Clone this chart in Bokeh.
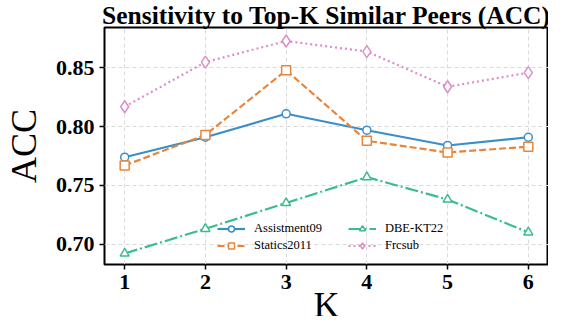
from bokeh.plotting import figure
from bokeh.embed import file_html
from bokeh.resources import INLINE
from bokeh.models import Legend, LegendItem, Range1d, FixedTicker, Title

K = [1, 2, 3, 4, 5, 6]
assist09 = [0.774, 0.791, 0.811, 0.797, 0.784, 0.791]
statics2011 = [0.767, 0.793, 0.848, 0.788, 0.778, 0.783]
dbekt22 = [0.692, 0.713, 0.735, 0.757, 0.738, 0.710]
frcsub = [0.817, 0.855, 0.873, 0.864, 0.834, 0.846]
y_ticks = [0.70, 0.75, 0.80, 0.85]
title_text = "Sensitivity to Top-K Similar Peers (ACC)"
x_label = "K"
y_label = "ACC"

SERIF = "Liberation Serif"
W, H = 548, 316

p = figure(width=W, height=H, output_backend="svg", toolbar_location=None,
           x_range=Range1d(0.75, 6.25), y_range=Range1d(0.6826, 0.8845),
           min_border_left=96, min_border_right=0, min_border_top=0, min_border_bottom=0)

p.title.text = title_text
p.title.text_font = SERIF
p.title.text_font_size = "25.5px"
p.title.text_font_style = "bold"
p.title.text_color = "black"
p.title.align = "center"
p.title.standoff = -4
p.title.offset = 0

p.outline_line_color = "black"
p.outline_line_width = 2
p.outline_line_alpha = 1

for ax in (p.xaxis[0], p.yaxis[0]):
    ax.axis_line_color = None
    ax.major_tick_line_color = "black"
    ax.major_tick_line_width = 1.5
    ax.major_tick_out = 5
    ax.major_tick_in = 0
    ax.minor_tick_line_color = None
    ax.major_label_text_font = SERIF
    ax.major_label_text_font_style = "bold"
    ax.major_label_text_font_size = "22px"
    ax.major_label_text_color = "black"

p.xaxis.ticker = FixedTicker(ticks=K)
p.yaxis.ticker = FixedTicker(ticks=y_ticks)
p.yaxis.major_label_overrides = {v: f"{v:.2f}" for v in y_ticks}
p.xaxis.major_label_standoff = 5
p.yaxis.major_label_standoff = 5

p.yaxis.axis_label = y_label
p.yaxis.axis_label_text_font = SERIF
p.yaxis.axis_label_text_font_style = "normal"
p.yaxis.axis_label_text_font_size = "36px"
p.yaxis.axis_label_text_color = "black"
p.yaxis.axis_label_standoff = 9

p.xgrid.grid_line_color = "#d9d9d9"
p.ygrid.grid_line_color = "#d9d9d9"
p.xgrid.grid_line_dash = "4 3"
p.ygrid.grid_line_dash = "4 3"
p.xgrid.grid_line_width = 1
p.ygrid.grid_line_width = 1

# x-axis label as a title in the bottom panel, tightened with a negative standoff
p.add_layout(Title(text=x_label, text_font=SERIF, text_font_size="36px",
                   text_font_style="normal", text_color="black",
                   align="center", vertical_align="bottom", standoff=-17), "below")

series = [
    ("Assistment09", assist09, "#3A8FC8", "solid", "circle", 8),
    ("Statics2011", statics2011, "#E9853B", "7 3", "square", 9),
    ("DBE-KT22", dbekt22, "#38BD8F", "13 3 2 3", "triangle", 9),
    ("Frcsub", frcsub, "#DD8EC8", "2 3", "diamond", 12),
]

items = []
for name, ys, color, dash, marker, size in series:
    r1 = p.line(K, ys, line_color=color, line_width=2.2, line_dash=dash)
    r2 = p.scatter(K, ys, marker=marker, size=size, line_color=color,
                   fill_color="white", line_width=1.5)
    items.append(LegendItem(label=name, renderers=[r1, r2]))

legend = Legend(items=items, ncols=2, location=(113, 11), orientation="vertical")
legend.label_text_font = SERIF
legend.label_text_font_size = "12.5px"
legend.label_text_color = "black"
legend.glyph_width = 28
legend.glyph_height = 15
legend.label_standoff = 9
legend.spacing = 2
legend.padding = 2
legend.margin = 0
legend.label_height = 15
legend.label_width = 92
legend.border_line_color = None
legend.background_fill_alpha = 0
p.add_layout(legend, "center")

open("out.html", "w").write(file_html(p, INLINE))
